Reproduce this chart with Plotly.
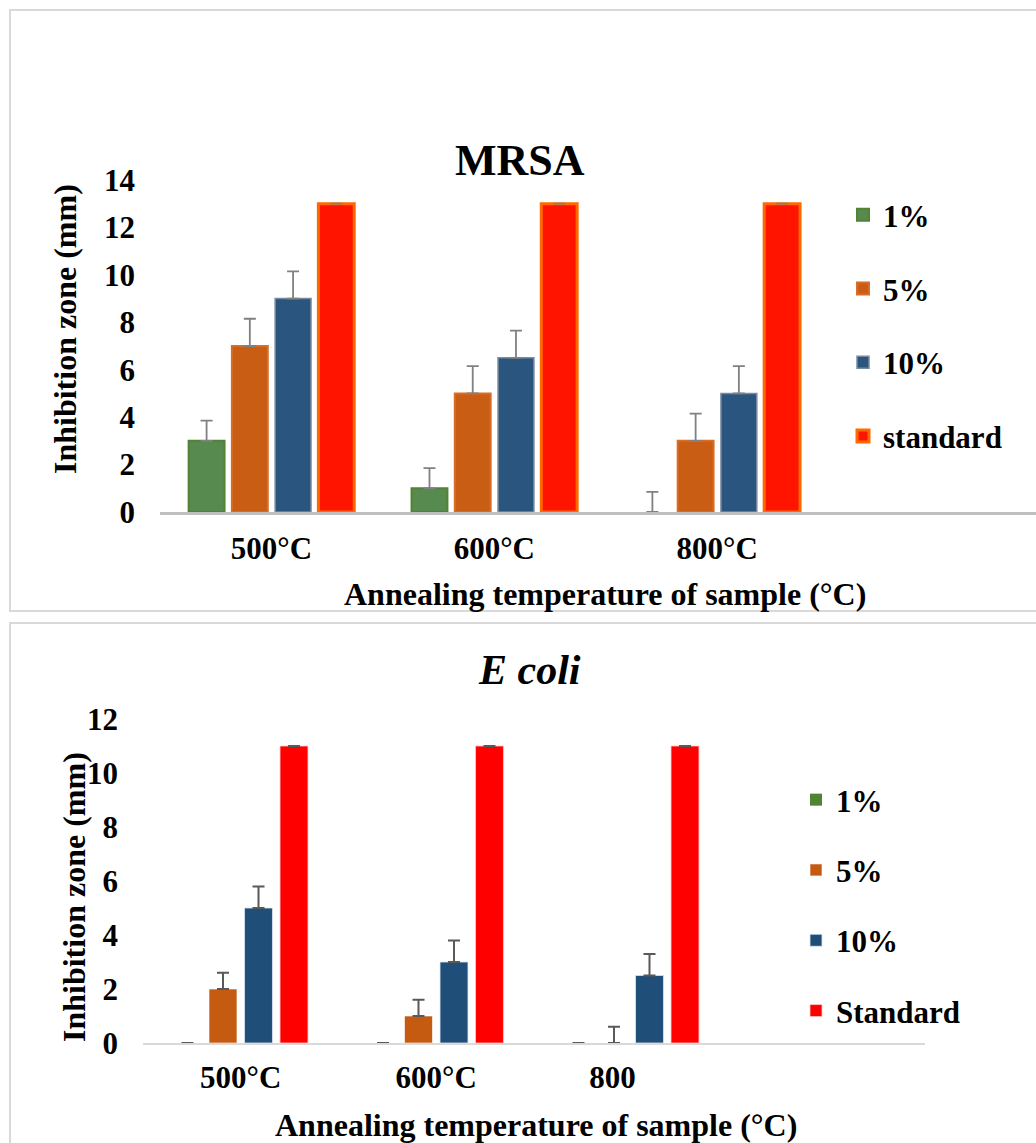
import plotly.graph_objects as go

W, H = 1036, 1143

# ---------------- data ----------------
cats_top = ["500°C", "600°C", "800°C"]
cats_bot = ["500°C", "600°C", "800" + "\u00a0" * 5]

series_top = ["1%", "5%", "10%", "standard"]
vals_top = {
    "1%": [3, 1, 0],
    "5%": [7, 5, 3],
    "10%": [9, 6.5, 5],
    "standard": [13, 13, 13],
}
errs_top = {
    "1%": [0.85, 0.85, 0.85],
    "5%": [1.15, 1.15, 1.15],
    "10%": [1.15, 1.15, 1.15],
    "standard": [0, 0, 0],
}

series_bot = ["1%", "5%", "10%", "Standard"]
vals_bot = {
    "1%": [0, 0, 0],
    "5%": [2, 1, 0],
    "10%": [5, 3, 2.5],
    "Standard": [11, 11, 11],
}
errs_bot = {
    "1%": [0, 0, 0],
    "5%": [0.6, 0.6, 0.6],
    "10%": [0.8, 0.8, 0.8],
    "Standard": [0, 0, 0],
}

# ---------------- styles ----------------
style_top = {
    "1%": dict(color="#578a4e", line_color="#548235", lw=2),
    "5%": dict(color="#c95d14", line_color="#d96c26", lw=2),
    "10%": dict(color="#2a557f", line_color="#7a8ba0", lw=1.5),
    "standard": dict(color="#ff1400", line_color="#ff6a00", lw=3),
}
style_bot = {
    "1%": dict(color="#548235", line_color="rgba(255,255,255,0.6)", lw=1),
    "5%": dict(color="#c55a11", line_color="rgba(255,255,255,0.6)", lw=1),
    "10%": dict(color="#1f4e79", line_color="rgba(220,230,240,0.8)", lw=1),
    "Standard": dict(color="#ff0000", line_color="rgba(255,200,200,0.8)", lw=1),
}

FONT = "Liberation Serif, Times New Roman, serif"

fig = go.Figure()


def marker_for(st, vals):
    return dict(color=st["color"],
                line=dict(color=st["line_color"],
                          width=[st["lw"] if v > 0 else 0 for v in vals]))


# top chart bar geometry (category units)
w_top, pitch_top = 0.161, 0.194
for i, s in enumerate(series_top):
    c = (i - 1.5) * pitch_top
    fig.add_trace(go.Bar(
        x=cats_top, y=vals_top[s], name=s,
        width=w_top, offset=c - w_top / 2,
        marker=marker_for(style_top[s], vals_top[s]),
        error_y=dict(type="data", array=errs_top[s], arrayminus=[0] * 3,
                     symmetric=False, color="#808080", thickness=1.8, width=6),
        xaxis="x", yaxis="y", legend="legend", legendgroup="t" + s,
    ))

w_bot, pitch_bot = 0.143, 0.1816
for i, s in enumerate(series_bot):
    c = (i - 1.5) * pitch_bot
    fig.add_trace(go.Bar(
        x=cats_bot, y=vals_bot[s], name=s,
        width=w_bot, offset=c - w_bot / 2,
        marker=marker_for(style_bot[s], vals_bot[s]),
        error_y=dict(type="data", array=errs_bot[s], arrayminus=[0] * 3,
                     symmetric=False, color="#595959", thickness=2, width=6),
        xaxis="x2", yaxis="y2", legend="legend2", legendgroup="b" + s,
    ))

tickfont = dict(family=FONT, size=31, color="black", weight="bold")


def px(x):
    return x / W


def py(y):
    return 1 - y / H


fig.update_layout(
    width=W, height=H,
    margin=dict(l=0, r=0, t=0, b=0, autoexpand=False),
    paper_bgcolor="white", plot_bgcolor="white",
    barmode="overlay",
    showlegend=True,
    font=dict(family=FONT, color="black"),
    xaxis=dict(domain=[px(160), 1.0], range=[-0.5, 3.43], type="category",
               showline=True, linecolor="#bfbfbf", linewidth=3,
               showgrid=False, zeroline=False, ticks="", tickfont=tickfont,
               ticklabelstandoff=7, anchor="y", automargin=False),
    yaxis=dict(domain=[py(512), py(180)], range=[0, 14], dtick=2,
               showline=False, showgrid=False, zeroline=False, ticks="",
               tickfont=tickfont, ticklabelstandoff=24, anchor="x", automargin=False),
    xaxis2=dict(domain=[px(143), px(925)], range=[-0.5, 3.5], type="category",
                showline=True, linecolor="#d9d9d9", linewidth=2,
                showgrid=False, zeroline=False, ticks="", tickfont=tickfont,
                ticklabelstandoff=6, anchor="y2", automargin=False),
    yaxis2=dict(domain=[py(1043), py(719)], range=[0, 12], dtick=2,
                showline=False, showgrid=False, zeroline=False, ticks="",
                tickfont=tickfont, ticklabelstandoff=24, anchor="x2", automargin=False),
    legend=dict(x=px(843), y=py(188), xanchor="left", yanchor="top",
                font=dict(family=FONT, size=31, color="black", weight="bold"),
                traceorder="grouped", tracegroupgap=30.5, bgcolor="rgba(0,0,0,0)"),
    legend2=dict(x=px(796), y=py(773), xanchor="left", yanchor="top",
                 font=dict(family=FONT, size=31, color="black", weight="bold"),
                 traceorder="grouped", tracegroupgap=27, bgcolor="rgba(0,0,0,0)"),
)

ann = [
    dict(text="<b>MRSA</b>", x=px(520), y=py(160), font=dict(size=44)),
    dict(text="<b><i>E coli</i></b>", x=px(529), y=py(670), font=dict(size=42)),
    dict(text="<b>Annealing temperature of sample (°C)</b>", x=px(605), y=py(594), font=dict(size=32)),
    dict(text="<b>Annealing temperature of sample (°C)</b>", x=px(536), y=py(1125), font=dict(size=32)),
    dict(text="<b>Inhibition zone (mm)</b>", x=px(65), y=py(329), font=dict(size=32), textangle=-90),
    dict(text="<b>Inhibition zone (mm)</b>", x=px(74), y=py(897), font=dict(size=32), textangle=-90),
]
for a in ann:
    a.update(xref="paper", yref="paper", showarrow=False, xanchor="center", yanchor="middle")
    a["font"].update(family=FONT, color="black")
    fig.add_annotation(**a)

# panel borders
fig.add_shape(type="rect", xref="paper", yref="paper",
              x0=px(10), x1=1.02, y0=py(611), y1=py(10),
              line=dict(color="#d9d9d9", width=2), fillcolor="rgba(0,0,0,0)", layer="below")
fig.add_shape(type="rect", xref="paper", yref="paper",
              x0=px(10), x1=1.02, y0=-0.02, y1=py(623),
              line=dict(color="#d9d9d9", width=2), fillcolor="rgba(0,0,0,0)", layer="below")

fig.write_html("out.html")
